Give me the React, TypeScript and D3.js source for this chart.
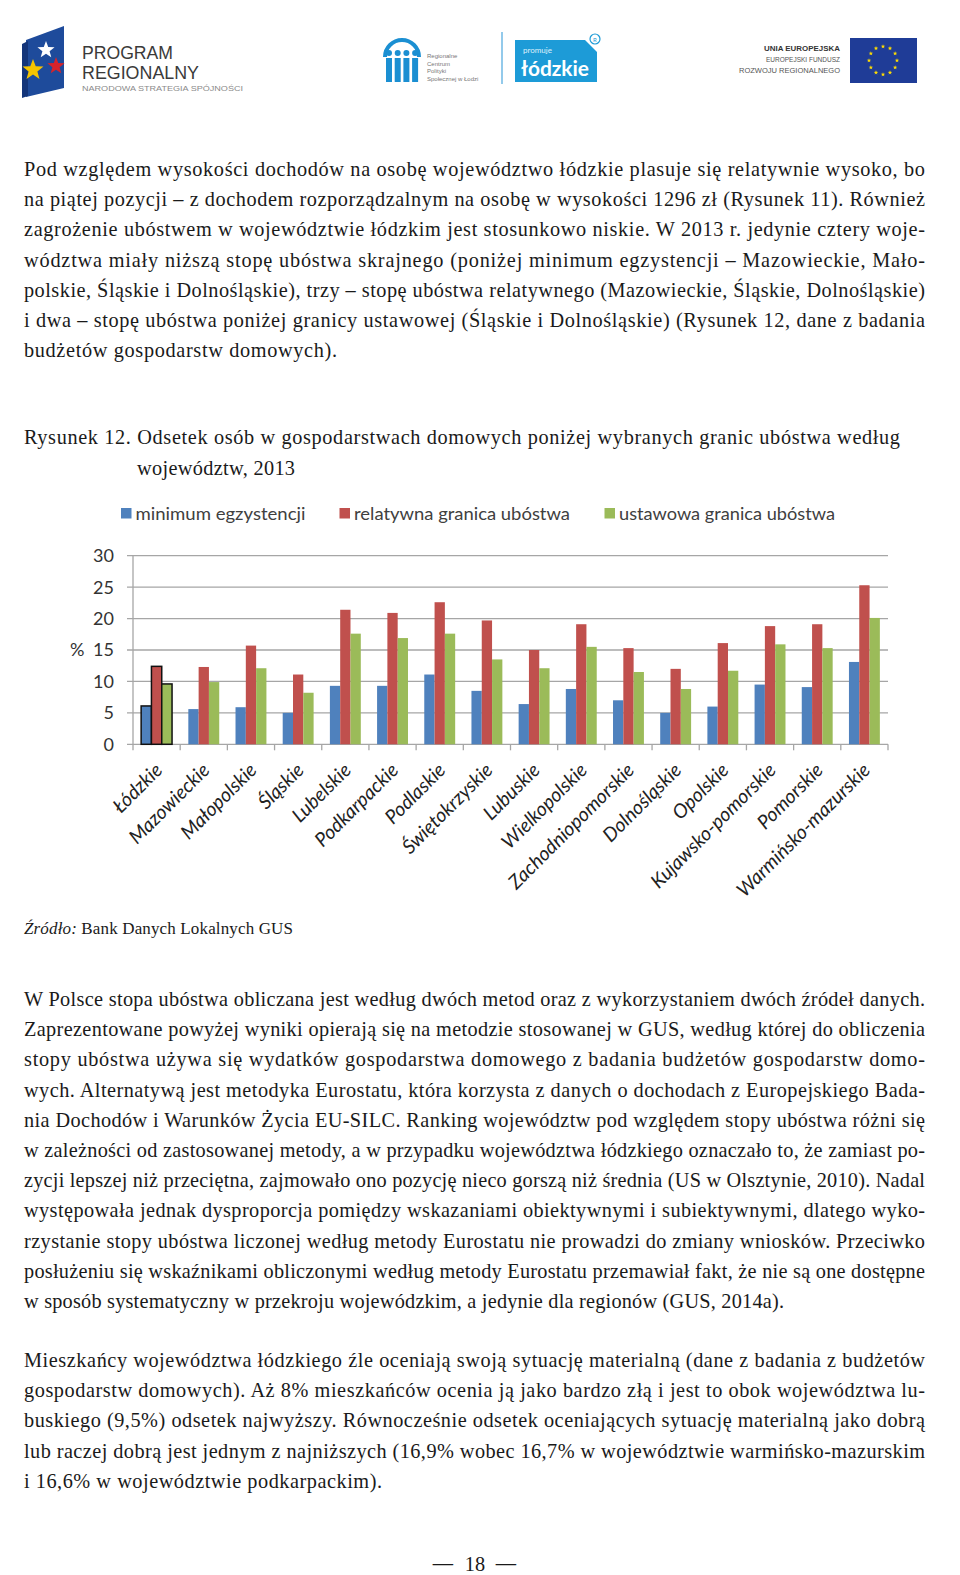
import React from 'react';
import * as d3 from 'd3';

// ---------- DATA ----------
const regions = [
  'Łódzkie', 'Mazowieckie', 'Małopolskie', 'Śląskie', 'Lubelskie', 'Podkarpackie',
  'Podlaskie', 'Świętokrzyskie', 'Lubuskie', 'Wielkopolskie', 'Zachodniopomorskie',
  'Dolnośląskie', 'Opolskie', 'Kujawsko-pomorskie', 'Pomorskie', 'Warmińsko-mazurskie',
];
const minimumEgzystencji = [6.1, 5.6, 5.9, 5.0, 9.3, 9.3, 11.1, 8.5, 6.4, 8.8, 7.0, 5.0, 6.0, 9.5, 9.1, 13.1];
const relatywnaGranica = [12.4, 12.3, 15.7, 11.1, 21.4, 20.9, 22.6, 19.7, 15.0, 19.1, 15.3, 12.0, 16.1, 18.8, 19.1, 25.3];
const ustawowaGranica = [9.6, 9.9, 12.1, 8.2, 17.6, 16.9, 17.6, 13.5, 12.1, 15.5, 11.5, 8.8, 11.7, 15.9, 15.3, 20.1];
const seriesNames = ['minimum egzystencji', 'relatywna granica ubóstwa', 'ustawowa granica ubóstwa'];
const yTicks = [0, 5, 10, 15, 20, 25, 30];
const highlighted = 'Łódzkie';

const para1 = [
  'Pod względem wysokości dochodów na osobę województwo łódzkie plasuje się relatywnie wysoko, bo',
  'na piątej pozycji – z dochodem rozporządzalnym na osobę w wysokości 1296 zł (Rysunek 11). Również',
  'zagrożenie ubóstwem w województwie łódzkim jest stosunkowo niskie. W 2013 r. jedynie cztery woje-',
  'wództwa miały niższą stopę ubóstwa skrajnego (poniżej minimum egzystencji – Mazowieckie, Mało-',
  'polskie, Śląskie i Dolnośląskie), trzy – stopę ubóstwa relatywnego (Mazowieckie, Śląskie, Dolnośląskie)',
  'i dwa – stopę ubóstwa poniżej granicy ustawowej (Śląskie i Dolnośląskie) (Rysunek 12, dane z badania',
  'budżetów gospodarstw domowych).',
];
const para2 = [
  'W Polsce stopa ubóstwa obliczana jest według dwóch metod oraz z wykorzystaniem dwóch źródeł danych.',
  'Zaprezentowane powyżej wyniki opierają się na metodzie stosowanej w GUS, według której do obliczenia',
  'stopy ubóstwa używa się wydatków gospodarstwa domowego z badania budżetów gospodarstw domo-',
  'wych. Alternatywą jest metodyka Eurostatu, która korzysta z danych o dochodach z Europejskiego Bada-',
  'nia Dochodów i Warunków Życia EU-SILC. Ranking województw pod względem stopy ubóstwa różni się',
  'w zależności od zastosowanej metody, a w przypadku województwa łódzkiego oznaczało to, że zamiast po-',
  'zycji lepszej niż przeciętna, zajmowało ono pozycję nieco gorszą niż średnia (US w Olsztynie, 2010). Nadal',
  'występowała jednak dysproporcja pomiędzy wskazaniami obiektywnymi i subiektywnymi, dlatego wyko-',
  'rzystanie stopy ubóstwa liczonej według metody Eurostatu nie prowadzi do zmiany wniosków. Przeciwko',
  'posłużeniu się wskaźnikami obliczonymi według metody Eurostatu przemawiał fakt, że nie są one dostępne',
  'w sposób systematyczny w przekroju wojewódzkim, a jedynie dla regionów (GUS, 2014a).',
];
const para3 = [
  'Mieszkańcy województwa łódzkiego źle oceniają swoją sytuację materialną (dane z badania z budżetów',
  'gospodarstw domowych). Aż 8% mieszkańców ocenia ją jako bardzo złą i jest to obok województwa lu-',
  'buskiego (9,5%) odsetek najwyższy. Równocześnie odsetek oceniających sytuację materialną jako dobrą',
  'lub raczej dobrą jest jednym z najniższych (16,9% wobec 16,7% w województwie warmińsko-mazurskim',
  'i 16,6% w województwie podkarpackim).',
];
const para1LastWidth = 313;
const para2LastWidth = 760;
const para3LastWidth = 358;
const captionLines = [
  'Rysunek 12. Odsetek osób w gospodarstwach domowych poniżej wybranych granic ubóstwa według',
  'województw, 2013',
];
const sourceLabel = 'Źródło:';
const sourceText = ' Bank Danych Lokalnych GUS';
const pageNumber = '18';

// ---------- LAYOUT ----------
const W = 960;
const H = 1575;
const textLeft = 24;
const textRight = 925;
const lineH = 30.2;
const bodySize = 20.3;
const serif = '"Liberation Serif", "Times New Roman", serif';
const sans = 'Lato, "Noto Sans", sans-serif';
const colors = ['#4F81BD', '#C0504D', '#9BBB59'];

const plot = { left: 133, right: 888, top: 555.7, bottom: 744.3 };

function Paragraph({ lines, y0, lastWidth }: { lines: string[]; y0: number; lastWidth: number }) {
  return (
    <g>
      {lines.map((l, i) => (
        <text
          key={i}
          x={textLeft}
          y={y0 + i * lineH}
          textLength={i === lines.length - 1 ? lastWidth : textRight - textLeft}
          lengthAdjust="spacing"
          fontFamily={serif}
          fontSize={bodySize}
          fill="#1a1a1a"
        >
          {l}
        </text>
      ))}
    </g>
  );
}

function Star({ cx, cy, r, fill }: { cx: number; cy: number; r: number; fill: string }) {
  const pts: [number, number][] = [];
  for (let i = 0; i < 10; i++) {
    const rad = i % 2 === 0 ? r : r * 0.42;
    const a = -Math.PI / 2 + (i * Math.PI) / 5;
    pts.push([cx + rad * Math.cos(a), cy + rad * Math.sin(a)]);
  }
  return <polygon points={pts.map((p) => p.join(',')).join(' ')} fill={fill} />;
}

function Header() {
  const euStars = d3.range(12).map((i) => {
    const a = (i * Math.PI * 2) / 12;
    return { x: 883 + 14 * Math.cos(a), y: 60.5 + 14 * Math.sin(a) };
  });
  const narrow = '"Liberation Sans Narrow", "Liberation Sans", sans-serif';
  return (
    <g>
      {/* Program Regionalny */}
      <polygon points="26,40 64,26 64,88 26,97" fill="#1e4b9b" />
      <polygon points="22,44 28,41 28,96 22,98" fill="#13357a" />
      <Star cx={46} cy={50} r={9} fill="#ffffff" />
      <Star cx={56} cy={66} r={9} fill="#d8232a" />
      <Star cx={33} cy={70} r={11} fill="#f5c400" />
      <text x={82} y={59} fontFamily={narrow} fontSize={18} fill="#3a3a3a" textLength={91} lengthAdjust="spacingAndGlyphs">PROGRAM</text>
      <text x={82} y={79} fontFamily={narrow} fontSize={18} fill="#3a3a3a" textLength={117} lengthAdjust="spacingAndGlyphs">REGIONALNY</text>
      <text x={82} y={91} fontFamily={'"Liberation Sans", sans-serif'} fontSize={8} fill="#8a8a8a" textLength={161} lengthAdjust="spacingAndGlyphs">NARODOWA STRATEGIA SPÓJNOŚCI</text>

      {/* RCPS */}
      <path d="M385,57 A17,17 0 0 1 419,57" fill="none" stroke="#1b8fd2" strokeWidth={4} />
      {d3.range(4).map((i) => (
        <g key={i}>
          <circle cx={389 + i * 8.7} cy={53} r={3} fill="#1b8fd2" />
          <rect x={386 + i * 8.7} y={58} width={6} height={24} fill="#1b8fd2" />
        </g>
      ))}
      {['Regionalne', 'Centrum', 'Polityki', 'Społecznej w Łodzi'].map((t, i) => (
        <text key={t} x={427} y={58 + i * 7.5} fontFamily={'"Liberation Sans", sans-serif'} fontSize={6} fill="#777">{t}</text>
      ))}
      <line x1={502} x2={502} y1={32} y2={84} stroke="#6fb8e4" strokeWidth={1.5} />
      <rect x={515} y={40} width={82} height={42} fill="#1d9bd7" />
      <polygon points="585,40 597,40 597,52" fill="#ffffff" />
      <text x={523} y={53} fontFamily={sans} fontSize={8} fill="#dff1fb">promuje</text>
      <text x={521} y={76} fontFamily={sans} fontWeight={700} fontSize={21} fill="#ffffff" textLength={68} lengthAdjust="spacingAndGlyphs">łódzkie</text>
      <circle cx={595} cy={39} r={5} fill="#fff" stroke="#1d9bd7" strokeWidth={1.2} />
      <text x={595} y={41.5} textAnchor="middle" fontFamily={sans} fontSize={6} fill="#1d9bd7">R</text>

      {/* UE */}
      <text x={840} y={51} textAnchor="end" fontFamily={'"Liberation Sans", sans-serif'} fontWeight={700} fontSize={7.5} fill="#333" textLength={76} lengthAdjust="spacingAndGlyphs">UNIA EUROPEJSKA</text>
      <text x={840} y={62} textAnchor="end" fontFamily={'"Liberation Sans", sans-serif'} fontSize={7.5} fill="#555" textLength={74} lengthAdjust="spacingAndGlyphs">EUROPEJSKI FUNDUSZ</text>
      <text x={840} y={73} textAnchor="end" fontFamily={'"Liberation Sans", sans-serif'} fontSize={7.5} fill="#555" textLength={101} lengthAdjust="spacingAndGlyphs">ROZWOJU REGIONALNEGO</text>
      <rect x={850} y={38} width={67} height={45} fill="#1f3c97" />
      {euStars.map((s, i) => (
        <Star key={i} cx={s.x} cy={s.y} r={2.3} fill="#ffdd00" />
      ))}
    </g>
  );
}

function Chart() {
  const x0 = d3.scaleBand<string>().domain(regions).range([plot.left, plot.right]).padding(0);
  const x1 = d3.scaleBand<number>().domain([0, 1, 2]).range([0, x0.bandwidth()]).paddingInner(0).paddingOuter(0.79);
  const y = d3.scaleLinear().domain([0, 30]).range([plot.bottom, plot.top]);
  const series = [minimumEgzystencji, relatywnaGranica, ustawowaGranica];
  const boundaries = regions.map((r) => x0(r) as number).concat([plot.right]);
  const legendX = [121, 339.5, 604.5];
  const legendW = [170, 216, 216];

  return (
    <g>
      {/* legend */}
      {seriesNames.map((n, i) => (
        <g key={n}>
          <rect x={legendX[i]} y={508} width={10.5} height={10.5} fill={colors[i]} />
          <text x={legendX[i] + 14.5} y={519.5} fontFamily={sans} fontSize={18} fill="#404040" textLength={legendW[i]} lengthAdjust="spacingAndGlyphs">{n}</text>
        </g>
      ))}

      {/* gridlines and y ticks */}
      {yTicks.map((t) => (
        <g key={t}>
          <line x1={plot.left - 6} x2={plot.right} y1={y(t)} y2={y(t)} stroke="#a6a6a6" strokeWidth={1.3} />
          <text x={114} y={y(t)} dy="0.36em" textAnchor="end" fontFamily={sans} fontSize={18} fill="#333">{t}</text>
        </g>
      ))}
      <text x={70} y={y(15)} dy="0.36em" fontFamily={sans} fontSize={18} fill="#333">%</text>
      <line x1={plot.left} x2={plot.left} y1={plot.top} y2={plot.bottom} stroke="#a6a6a6" strokeWidth={1.3} />
      {boundaries.map((b, i) => (
        <line key={i} x1={b} x2={b} y1={plot.bottom} y2={plot.bottom + 6} stroke="#a6a6a6" strokeWidth={1.3} />
      ))}

      {/* bars */}
      {regions.map((r, ri) => (
        <g key={r} transform={`translate(${x0(r)},0)`}>
          {series.map((s, si) => (
            <rect
              key={si}
              x={x1(si)}
              y={y(s[ri])}
              width={x1.bandwidth()}
              height={y(0) - y(s[ri])}
              fill={colors[si]}
              stroke={r === highlighted ? '#111' : 'none'}
              strokeWidth={r === highlighted ? 1.5 : 0}
            />
          ))}
        </g>
      ))}

      {/* x labels */}
      {regions.map((r) => {
        const cx = (x0(r) as number) + x0.bandwidth() / 2 + 7;
        const cy = plot.bottom + 27;
        return (
          <text
            key={r}
            transform={`translate(${cx},${cy}) rotate(-45)`}
            textAnchor="end"
            fontFamily={sans}
            fontStyle="italic"
            fontSize={19.5}
            fill="#222"
          >
            {r}
          </text>
        );
      })}
    </g>
  );
}

export default function App() {
  return (
    <div style={{ position: 'absolute', left: 0, top: 0, width: W, height: H, background: '#fff' }}>
      <svg width={W} height={H} viewBox={`0 0 ${W} ${H}`} style={{ display: 'block' }}>
        <rect width={W} height={H} fill="#fff" />
        <Header />
        <Paragraph lines={para1} y0={176} lastWidth={para1LastWidth} />
        <text x={textLeft} y={444.3} fontFamily={serif} fontSize={bodySize} fill="#1a1a1a" textLength={876} lengthAdjust="spacing">{captionLines[0]}</text>
        <text x={137} y={474.5} fontFamily={serif} fontSize={bodySize} fill="#1a1a1a" textLength={158} lengthAdjust="spacing">{captionLines[1]}</text>
        <Chart />
        <text x={textLeft} y={934.3} fontFamily={serif} fontSize={17} fill="#1a1a1a" textLength={269} lengthAdjust="spacing">
          <tspan fontStyle="italic">{sourceLabel}</tspan>
          <tspan>{sourceText}</tspan>
        </text>
        <Paragraph lines={para2} y0={1006} lastWidth={para2LastWidth} />
        <Paragraph lines={para3} y0={1367} lastWidth={para3LastWidth} />
        <text x={443} y={1570} textAnchor="middle" fontFamily={serif} fontSize={bodySize} fill="#1a1a1a">—</text>
        <text x={475} y={1571} textAnchor="middle" fontFamily={serif} fontSize={bodySize} fill="#1a1a1a">{pageNumber}</text>
        <text x={506} y={1570} textAnchor="middle" fontFamily={serif} fontSize={bodySize} fill="#1a1a1a">—</text>
      </svg>
    </div>
  );
}
